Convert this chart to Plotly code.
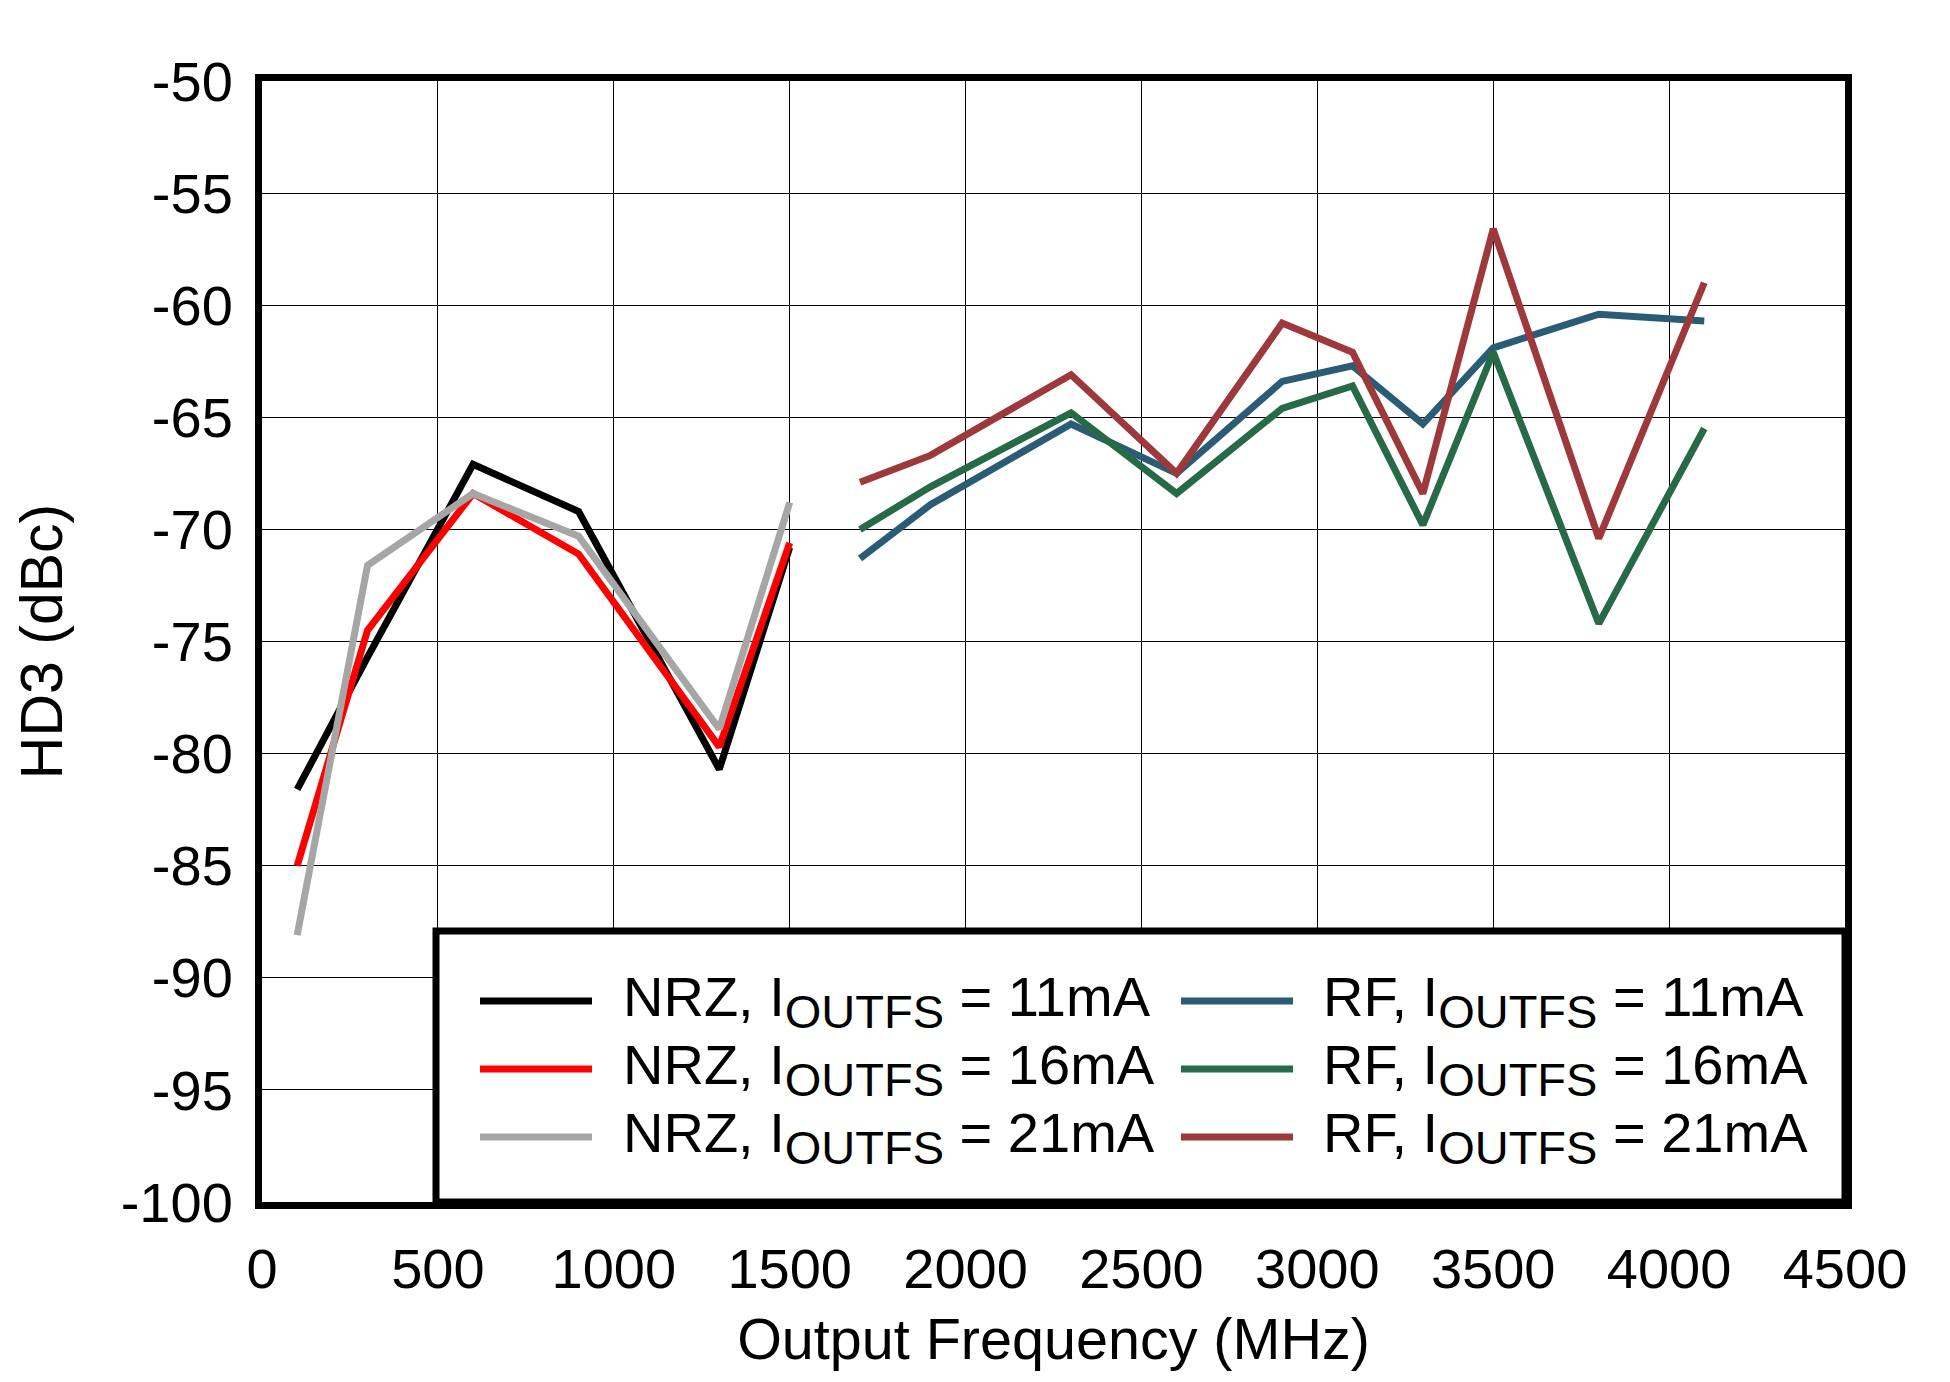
import plotly.graph_objects as go

# ---------------- data ----------------
nrz_freq = [100, 300, 600, 900, 1300, 1500]
nrz_11mA = [-81.6, -75.7, -67.1, -69.2, -80.7, -70.8]
nrz_16mA = [-85.0, -74.5, -68.4, -71.1, -79.7, -70.6]
nrz_21mA = [-88.1, -71.6, -68.4, -70.3, -78.9, -68.8]

rf_freq = [1700, 1900, 2300, 2600, 2900, 3100, 3300, 3500, 3800, 4100]
rf_11mA = [-71.3, -68.9, -65.3, -67.5, -63.4, -62.7, -65.3, -61.9, -60.4, -60.7]
rf_16mA = [-70.0, -68.1, -64.8, -68.4, -64.6, -63.6, -69.8, -62.1, -74.2, -65.5]
rf_21mA = [-67.9, -66.7, -63.1, -67.5, -60.8, -62.1, -68.4, -56.6, -70.4, -59.0]

x_tickvals = [0, 500, 1000, 1500, 2000, 2500, 3000, 3500, 4000, 4500]
x_ticktext = ["0", "500", "1000", "1500", "2000", "2500", "3000", "3500", "4000", "4500"]
y_tickvals = [-50, -55, -60, -65, -70, -75, -80, -85, -90, -95, -100]
y_ticktext = ["-50", "-55", "-60", "-65", "-70", "-75", "-80", "-85", "-90", "-95", "-100"]

series_prefix = ["NRZ", "NRZ", "NRZ", "RF", "RF", "RF"]
series_current = ["11mA", "16mA", "21mA", "11mA", "16mA", "21mA"]
series_colors = ["#000000", "#FF0000", "#A6A6A6", "#2A5D75", "#276A48", "#9E393B"]

# ---------------- figure ----------------
# the page body adds an 8 px offset; figure coordinates below are viewport - 8
OFF = 8
W, H = 1950 - OFF, 1382 - OFF
L, R, T, B = 262 - OFF, 1845 - OFF, 81 - OFF, 1202 - OFF
FONT = "Liberation Sans, Arial, sans-serif"

def label(i):
    return (f"{series_prefix[i]}, I<sub><span style='font-size:47px'>OUTFS</span></sub>"
            f" = {series_current[i]}")

fig = go.Figure()
series = [
    (nrz_freq, nrz_11mA), (nrz_freq, nrz_16mA), (nrz_freq, nrz_21mA),
    (rf_freq, rf_11mA), (rf_freq, rf_16mA), (rf_freq, rf_21mA),
]
for i, ((xs, ys), col) in enumerate(zip(series, series_colors)):
    fig.add_trace(go.Scatter(x=xs, y=ys, mode="lines",
                             name=f"{series_prefix[i]}, IOUTFS = {series_current[i]}",
                             line=dict(color=col, width=7), showlegend=False))

def px_x(p):
    return (p - OFF - L) / (R - L)

def px_y(p):
    return (B - (p - OFF)) / (B - T)

shapes = []
# legend box
shapes.append(dict(type="rect", xref="paper", yref="paper",
                   x0=px_x(436), x1=1.0, y0=0.0, y1=px_y(931),
                   fillcolor="white", line=dict(color="black", width=7),
                   layer="above"))
annotations = []
col_sample_x = [(480, 592), (1181, 1293)]
col_text_x = [621, 1321]
row_y = [1001, 1069, 1137]
for i, col in enumerate(series_colors):
    c, r = divmod(i, 3)
    yy = px_y(row_y[r])
    shapes.append(dict(type="line", xref="paper", yref="paper",
                       x0=px_x(col_sample_x[c][0]), x1=px_x(col_sample_x[c][1]),
                       y0=yy, y1=yy, line=dict(color=col, width=7), layer="above"))
    annotations.append(dict(xref="paper", yref="paper", x=px_x(col_text_x[c]), y=yy,
                            text=label(i), showarrow=False, xanchor="left", yanchor="middle",
                            font=dict(family=FONT, size=56, color="black")))

fig.update_layout(
    width=W, height=H,
    margin=dict(l=L, r=W - R, t=T, b=H - B, pad=0),
    paper_bgcolor="white", plot_bgcolor="white",
    font=dict(family=FONT, size=56, color="black"),
    shapes=shapes, annotations=annotations,
    showlegend=False,
)
fig.update_xaxes(
    range=[0, 4500], tickvals=x_tickvals, ticktext=x_ticktext,
    showgrid=True, gridcolor="black", gridwidth=1.3,
    showline=True, linecolor="black", linewidth=7, mirror=True,
    ticks="", zeroline=False, ticklabelstandoff=12,
    tickfont=dict(family=FONT, size=56),
    title=dict(text="Output Frequency (MHz)", font=dict(family=FONT, size=57.5), standoff=22),
)
fig.update_yaxes(
    range=[-100, -50], tickvals=y_tickvals, ticktext=y_ticktext,
    showgrid=True, gridcolor="black", gridwidth=1.3,
    showline=True, linecolor="black", linewidth=7, mirror=True,
    ticks="", zeroline=False, ticklabelstandoff=11,
    tickfont=dict(family=FONT, size=56),
    title=dict(text="HD3 (dBc)", font=dict(family=FONT, size=59), standoff=42),
)

fig.write_html("out.html")
